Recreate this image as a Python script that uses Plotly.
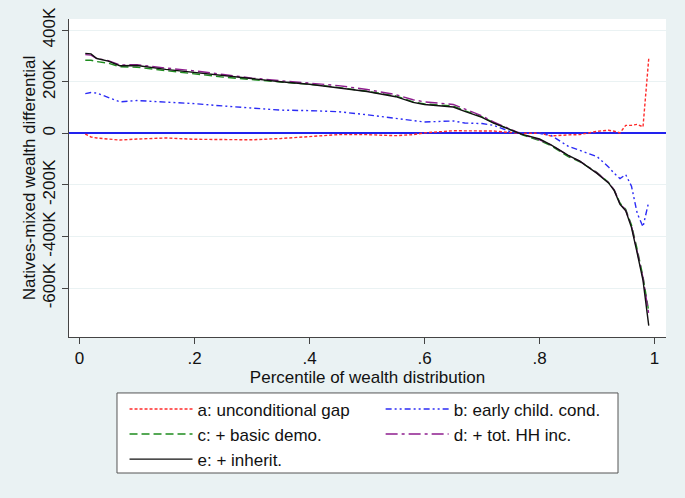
import plotly.graph_objects as go

# percentile of wealth distribution
pctile = [0.01, 0.02, 0.03, 0.05, 0.07, 0.10, 0.15, 0.20, 0.25, 0.30, 0.35, 0.40,
          0.45, 0.50, 0.55, 0.58, 0.60, 0.65, 0.67, 0.70, 0.72, 0.75, 0.77, 0.80,
          0.82, 0.85, 0.87, 0.90, 0.92, 0.93, 0.94, 0.95, 0.96, 0.97, 0.98, 0.99]

# natives-mixed wealth differential, in thousands
gap_a = [-3, -14, -18, -22, -26, -22, -18, -23, -25, -25, -20, -13,
         -5, -5, -9, -5, 2, 10, 9, 9, 9, 3, 0, 1,
         -10, -6, -5, 8, 12, 8, 2, 31, 31, 35, 25, 290]
gap_b = [154, 158, 156, 140, 122, 127, 122, 115, 106, 97, 90, 88,
         84, 72, 57, 48, 44, 48, 40, 38, 31, 6, 2, 0,
         -8, -50, -66, -90, -130, -155, -175, -160, -205, -310, -362, -265]
gap_c = [283, 283, 278, 272, 258, 256, 243, 230, 218, 208, 200, 190,
         178, 163, 145, 122, 114, 106, 88, 64, 42, 14, -6, -28,
         -48, -90, -110, -152, -190, -220, -270, -295, -355, -450, -555, -690]
gap_d = [305, 303, 290, 282, 265, 266, 253, 242, 228, 214, 204, 195,
         185, 170, 150, 130, 122, 112, 95, 68, 44, 16, -4, -25,
         -45, -86, -108, -153, -190, -220, -272, -298, -360, -458, -560, -700]
gap_e = [310, 308, 290, 280, 262, 263, 248, 236, 224, 211, 200, 190,
         177, 162, 142, 120, 112, 102, 85, 62, 40, 14, -4, -22,
         -45, -85, -108, -155, -192, -222, -275, -300, -365, -465, -570, -745]

names = ["a: unconditional gap", "b: early child. cond.", "c: + basic demo.",
         "d: + tot. HH inc.", "e: + inherit."]

x_ticks = [0, 0.2, 0.4, 0.6, 0.8, 1]
x_labels = ["0", ".2", ".4", ".6", ".8", "1"]
y_ticks = [-600000, -400000, -200000, 0, 200000, 400000]
y_labels = ["-600K", "-400K", "-200K", "0", "200K", "400K"]

series = [gap_a, gap_b, gap_c, gap_d, gap_e]
colors = ["#FF2B2B", "#2B2BF5", "#1E8C1E", "#8E1E8E", "#111111"]
dashes = ["3px,2px", "6px,3px,2px,3px,2px,3px", "8px,4px", "12px,4px,3px,4px", "solid"]
legends = ["legend", "legend2", "legend", "legend2", "legend"]

FONT = "Arial, Liberation Sans, sans-serif"
BG = "#EAF2F3"
FS = 17

fig = go.Figure()
for vals, name, col, dash, leg in zip(series, names, colors, dashes, legends):
    fig.add_trace(go.Scatter(
        x=pctile, y=[v * 1000 for v in vals], mode="lines", name=name,
        legendgroup=name, legend=leg,
        line=dict(color=col, width=1.4, dash=dash)))

legend_style = dict(font=dict(family=FONT, size=FS, color="#111"),
                    bgcolor="rgba(0,0,0,0)", borderwidth=0, itemwidth=63,
                    orientation="v", xanchor="left", yanchor="top",
                    tracegroupgap=0, itemclick=False)

fig.update_layout(
    width=685, height=498,
    margin=dict(l=69, r=19, t=19, b=161),
    paper_bgcolor=BG, plot_bgcolor="white",
    font=dict(family=FONT, size=FS, color="#111"),
    legend=dict(x=0.093, y=-0.171, **legend_style),
    legend2=dict(x=0.522, y=-0.171, **legend_style),
    shapes=[dict(type="rect", xref="paper", yref="paper",
                 x0=0.0804, x1=0.9196, y0=-0.4277, y1=-0.176,
                 line=dict(color="#555", width=1), fillcolor="white", layer="below")],
)

fig.update_xaxes(range=[-0.0183, 1.02], tickvals=x_ticks, ticktext=x_labels,
                 showgrid=False, zeroline=False, showline=True, linecolor="#444",
                 ticks="outside", ticklen=6, tickcolor="#444", automargin=False,
                 title=dict(text="Percentile of wealth distribution", standoff=0,
                            font=dict(size=FS)))

fig.update_yaxes(range=[-789000, 443000], tickvals=y_ticks, ticktext=y_labels,
                 tickangle=-90, showgrid=True, gridcolor=BG, gridwidth=1,
                 zeroline=True, zerolinecolor="#2222EE", zerolinewidth=1.5,
                 showline=True, linecolor="#444", ticks="outside", ticklen=6,
                 tickcolor="#444", automargin=False,
                 title=dict(text="Natives-mixed wealth differential", standoff=0,
                            font=dict(size=FS)))

# drop the page's default body margin so the figure fills the window
fig.write_html("out.html", config={"displayModeBar": False},
               post_script="document.body.style.margin = '0';")
